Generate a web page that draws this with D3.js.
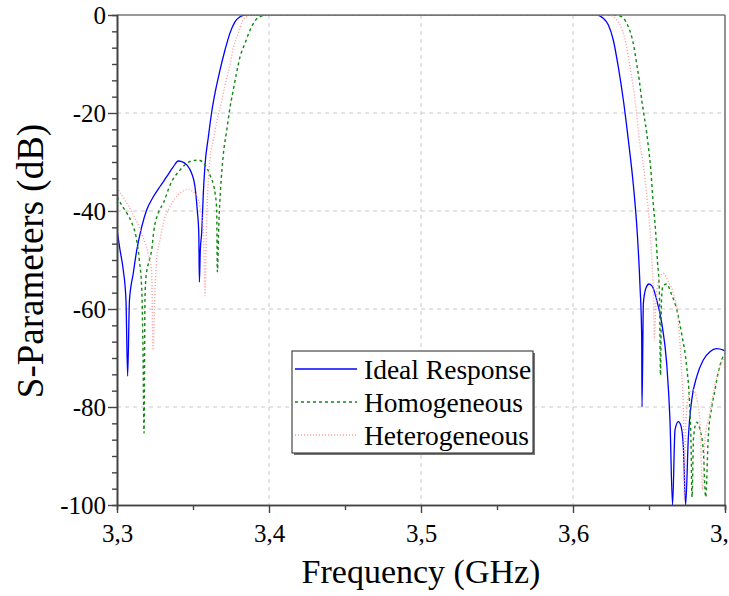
<!DOCTYPE html>
<html>
<head>
<meta charset="utf-8">
<script src="https://cdn.jsdelivr.net/npm/d3@7"></script>
<style>
  body { margin: 0; background: #fff; }
  svg text { font-family: 'Liberation Serif', 'DejaVu Serif', 'Times New Roman', Times, serif; fill: #000; }
</style>
</head>
<body>
<svg id="chart" width="729" height="596"></svg>
<script>
'use strict';

// tick values and labels
var xTicks = [3.3, 3.4, 3.5, 3.6, 3.7];
var xTickLabels = ['3,3', '3,4', '3,5', '3,6', '3,7'];
var yTicks = [0, -20, -40, -60, -80, -100];
var yTickLabels = ['0', '-20', '-40', '-60', '-80', '-100'];

var seriesNames = ['Ideal Response', 'Homogeneous', 'Heterogeneous'];

// [frequency GHz, S21 dB]
var ideal = [
  [3.3000,-43.9],[3.3020,-48.0],[3.3041,-52.0],[3.3059,-58.2],[3.3070,-73.7],[3.3082,-58.2],
  [3.3107,-52.7],[3.3130,-48.0],[3.3163,-43.2],[3.3195,-39.8],[3.3239,-37.1],[3.3283,-35.0],
  [3.3327,-33.0],[3.3370,-31.0],[3.3403,-29.8],[3.3426,-29.9],[3.3459,-30.6],[3.3491,-32.3],
  [3.3513,-35.0],[3.3528,-39.8],[3.3538,-44.5],[3.3542,-54.5],[3.3548,-48.0],[3.3557,-44.5],
  [3.3569,-35.7],[3.3579,-30.6],[3.3601,-24.9],[3.3623,-19.8],[3.3645,-15.9],[3.3678,-11.2],
  [3.3711,-7.1],[3.3743,-3.7],[3.3776,-1.4],[3.3809,-0.35],[3.3842,0],
  [3.6156,0],[3.6199,-0.67],[3.6232,-2.0],[3.6265,-5.1],[3.6298,-10.6],[3.6331,-17.3],
  [3.6364,-25.5],[3.6397,-34.7],[3.6423,-44.6],[3.6441,-55.4],[3.6452,-65.7],[3.6454,-80.0],
  [3.6463,-58.8],[3.6480,-55.7],[3.6500,-54.9],[3.6522,-55.4],[3.6551,-58.2],[3.6584,-62.9],
  [3.6616,-71.0],[3.6638,-82.7],[3.6655,-100],[3.6671,-84.7],[3.6693,-83.0],[3.6709,-83.7],
  [3.6726,-88.1],[3.6741,-100],[3.6759,-86.1],[3.6781,-78.6],[3.6814,-73.8],[3.6857,-70.4],
  [3.6901,-68.7],[3.6945,-68.1],[3.6989,-68.4],[3.7000,-68.6]
];

var homogeneous = [
  [3.3000,-37.1],[3.3031,-38.8],[3.3064,-40.4],[3.3097,-42.4],[3.3125,-45.2],[3.3147,-50.0],
  [3.3163,-56.1],[3.3171,-68.4],[3.3178,-85.3],[3.3184,-58.2],[3.3191,-53.4],[3.3213,-50.0],
  [3.3228,-48.0],[3.3243,-43.9],[3.3272,-40.4],[3.3305,-38.4],[3.3349,-34.7],[3.3415,-31.6],
  [3.3480,-29.9],[3.3535,-29.6],[3.3579,-30.6],[3.3612,-32.7],[3.3645,-36.3],[3.3656,-39.8],
  [3.3660,-52.4],[3.3671,-41.8],[3.3681,-35.7],[3.3699,-28.6],[3.3722,-23.5],[3.3743,-19.0],
  [3.3765,-15.3],[3.3788,-11.6],[3.3809,-8.6],[3.3842,-5.8],[3.3875,-3.1],[3.3908,-1.2],
  [3.3952,-0.2],[3.3993,0],
  [3.6276,0],[3.6320,-0.35],[3.6364,-2.4],[3.6386,-4.4],[3.6401,-6.5],[3.6419,-10.0],
  [3.6436,-13.3],[3.6452,-17.3],[3.6467,-20.4],[3.6485,-24.1],[3.6500,-28.0],[3.6511,-31.2],
  [3.6526,-37.8],[3.6543,-43.9],[3.6556,-50.4],[3.6568,-56.1],[3.6576,-73.5],[3.6582,-58.2],
  [3.6592,-55.3],[3.6616,-54.9],[3.6649,-57.1],[3.6682,-60.0],[3.6715,-65.1],[3.6748,-71.8],
  [3.6766,-78.6],[3.6776,-86.7],[3.6783,-98.4],[3.6793,-86.1],[3.6814,-83.1],[3.6836,-84.7],
  [3.6857,-88.8],[3.6873,-98.4],[3.6890,-86.1],[3.6913,-80.0],[3.6934,-76.5],[3.6956,-72.9],
  [3.6978,-70.4],[3.7000,-69.0]
];

var heterogeneous = [
  [3.3000,-35.3],[3.3053,-37.8],[3.3097,-40.2],[3.3140,-42.9],[3.3173,-45.5],[3.3206,-48.8],
  [3.3228,-52.4],[3.3237,-68.4],[3.3250,-56.1],[3.3261,-50.0],[3.3283,-45.9],[3.3305,-42.4],
  [3.3338,-39.8],[3.3382,-37.4],[3.3426,-36.1],[3.3469,-35.6],[3.3513,-36.4],[3.3546,-39.1],
  [3.3568,-43.9],[3.3579,-57.3],[3.3590,-41.8],[3.3601,-33.7],[3.3612,-29.2],[3.3634,-25.5],
  [3.3656,-21.8],[3.3678,-19.0],[3.3711,-14.3],[3.3743,-10.2],[3.3765,-6.7],[3.3798,-3.7],
  [3.3822,-1.4],[3.3855,-0.3],[3.3888,0],
  [3.6243,0],[3.6265,-0.35],[3.6298,-1.4],[3.6331,-3.7],[3.6353,-6.5],[3.6375,-10.6],
  [3.6397,-14.9],[3.6419,-20.4],[3.6441,-26.5],[3.6463,-30.6],[3.6485,-36.7],[3.6507,-43.9],
  [3.6520,-51.0],[3.6530,-58.2],[3.6535,-66.3],[3.6546,-58.2],[3.6561,-54.5],[3.6592,-52.7],
  [3.6627,-54.4],[3.6660,-56.7],[3.6682,-59.8],[3.6697,-64.3],[3.6714,-72.4],[3.6726,-80.6],
  [3.6732,-99.0],[3.6743,-82.7],[3.6763,-77.6],[3.6790,-76.5],[3.6816,-78.6],[3.6836,-83.3],
  [3.6852,-96.9],[3.6868,-86.7],[3.6901,-81.2],[3.6934,-75.5],[3.6967,-71.8],[3.7000,-70.0]
];

// plot frame
var plotLeft = 117, plotRight = 725, plotTop = 15, plotBottom = 505;
var serif = "'Liberation Serif', 'DejaVu Serif', 'Times New Roman', Times, serif";

var styles = [
  {color: '#0000ff', dash: null},
  {color: '#118811', dash: '3,3'},
  {color: '#ff9a9a', dash: '1,2'}
];

var svg = d3.select('#chart');

var x = d3.scaleLinear().domain([3.3, 3.7]).range([plotLeft, plotRight]);
var y = d3.scaleLinear().domain([-100, 0]).range([plotBottom, plotTop]);

svg.append('rect').attr('width', 729).attr('height', 596).attr('fill', '#fff');

svg.append('clipPath').attr('id', 'plotclip')
  .append('rect').attr('x', plotLeft).attr('y', plotTop)
  .attr('width', plotRight - plotLeft).attr('height', plotBottom - plotTop);

// grid
var grid = svg.append('g').attr('stroke', '#c8c8c8').attr('stroke-dasharray', '4,4');
grid.selectAll('.gx').data(xTicks.slice(1, -1)).enter().append('line')
  .attr('x1', function(d) { return x(d); }).attr('x2', function(d) { return x(d); })
  .attr('y1', plotTop).attr('y2', plotBottom);
grid.selectAll('.gy').data(yTicks.slice(1, -1)).enter().append('line')
  .attr('x1', plotLeft).attr('x2', plotRight)
  .attr('y1', function(d) { return y(d); }).attr('y2', function(d) { return y(d); });

// curves
var line = d3.line()
  .x(function(d) { return x(d[0]); })
  .y(function(d) { return y(d[1]); })
  .curve(d3.curveMonotoneX);

var curves = svg.append('g').attr('clip-path', 'url(#plotclip)');
[ideal, homogeneous, heterogeneous].forEach(function(s, i) {
  curves.append('path')
    .datum(s)
    .attr('d', line)
    .attr('fill', 'none')
    .attr('stroke', styles[i].color)
    .attr('stroke-width', i === 0 ? 1.3 : 1.4)
    .attr('stroke-dasharray', styles[i].dash);
});

// top and right border
svg.append('line').attr('x1', plotLeft).attr('x2', plotRight).attr('y1', plotTop).attr('y2', plotTop)
  .attr('stroke', '#777').attr('stroke-width', 1.6);
svg.append('line').attr('x1', plotRight).attr('x2', plotRight).attr('y1', plotTop).attr('y2', plotBottom)
  .attr('stroke', '#777').attr('stroke-width', 1.6);

// minor tick values
var xMinor = [3.35, 3.45, 3.55, 3.65];
var yMinor = [];
for (var k = 0; k < yTicks.length - 1; k++) {
  for (var j = 1; j < 6; j++) yMinor.push(yTicks[k] - j * 20 / 6);
}

function styleAxis(g) {
  g.attr('font-family', serif);
  g.select('.domain').attr('stroke', '#444').attr('stroke-width', 1.6);
  g.selectAll('.tick line').attr('stroke', '#444').attr('stroke-width', 1.4);
}

// x axis
var xAxisMinor = svg.append('g').attr('transform', 'translate(0,' + plotBottom + ')')
  .call(d3.axisBottom(x).tickValues(xMinor).tickSize(5).tickFormat(''));
styleAxis(xAxisMinor);
var xAxis = svg.append('g').attr('transform', 'translate(0,' + plotBottom + ')')
  .call(d3.axisBottom(x).tickValues(xTicks).tickSize(8).tickSizeOuter(0)
    .tickFormat(function(d, i) { return xTickLabels[i]; }));
styleAxis(xAxis);
xAxis.selectAll('text').attr('font-size', 25).attr('dy', '1.05em')
  .style('font-family', serif).attr('fill', '#000');

// y axis
var yAxisMinor = svg.append('g').attr('transform', 'translate(' + plotLeft + ',0)')
  .call(d3.axisLeft(y).tickValues(yMinor).tickSize(5).tickFormat(''));
styleAxis(yAxisMinor);
var yAxis = svg.append('g').attr('transform', 'translate(' + plotLeft + ',0)')
  .call(d3.axisLeft(y).tickValues(yTicks).tickSize(9).tickSizeOuter(0)
    .tickFormat(function(d, i) { return yTickLabels[i]; }));
styleAxis(yAxis);
yAxis.selectAll('text').attr('font-size', 25).attr('x', -11)
  .style('font-family', serif).attr('fill', '#000');

// axis titles
svg.append('text').attr('x', (plotLeft + plotRight) / 2).attr('y', 583)
  .attr('text-anchor', 'middle').attr('font-size', 34).style('font-family', serif)
  .text('Frequency (GHz)');
svg.append('text').attr('transform', 'translate(43,261) rotate(-90)')
  .attr('text-anchor', 'middle').attr('font-size', 37).style('font-family', serif)
  .text('S-Parameters (dB)');

// legend
var legend = svg.append('g');
legend.append('rect').attr('x', 294).attr('y', 353).attr('width', 241).attr('height', 102)
  .attr('fill', '#777');
legend.append('rect').attr('x', 292).attr('y', 351).attr('width', 241).attr('height', 102)
  .attr('fill', '#fff').attr('stroke', '#222').attr('stroke-width', 1);
seriesNames.forEach(function(name, i) {
  var ly = 369 + i * 33;
  legend.append('line').attr('x1', 295).attr('x2', 357).attr('y1', ly).attr('y2', ly)
    .attr('stroke', styles[i].color).attr('stroke-width', 1.4)
    .attr('stroke-dasharray', styles[i].dash);
  legend.append('text').attr('x', 364).attr('y', ly).attr('dy', '0.35em')
    .attr('font-size', 27.5).style('font-family', serif).text(name);
});
</script>
</body>
</html>
